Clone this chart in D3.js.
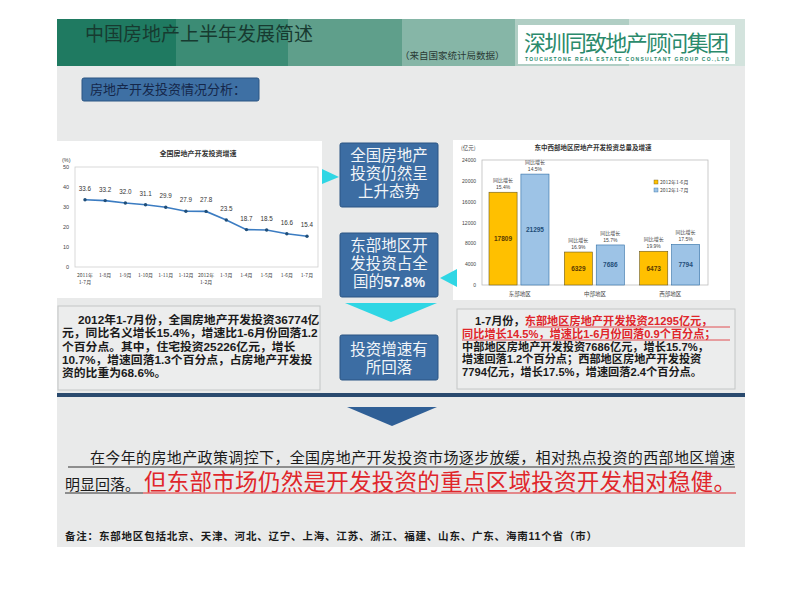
<!DOCTYPE html>
<html><head><meta charset="utf-8">
<script src="https://cdn.jsdelivr.net/npm/d3@7"></script>
<style>body{margin:0;background:#fff}svg{display:block}</style>
</head><body>
<script>
// ---- data ----
const lineCategories = ["2011年|1-7月","1-8月","1-9月","1-10月","1-11月","1-12月","2012年|1-2月","1-3月","1-4月","1-5月","1-6月","1-7月"];
const lineGrowth = [33.6,33.2,32.0,31.1,29.9,27.9,27.8,23.5,18.7,18.5,16.6,15.4];
const lineTicks = [0,10,20,30,40,50];
const regions = ["东部地区","中部地区","西部地区"];
const seriesNames = ["2012年1-6月","2012年1-7月"];
const invest16 = [17809,6329,6473];
const invest17 = [21295,7686,7794];
const growth16 = ["15.4%","16.9%","19.9%"];
const growth17 = ["14.5%","15.7%","17.5%"];
const barTicks = [0,4000,8000,12000,16000,20000,24000];

const CJK = "'Noto Sans CJK SC','Noto Sans',sans-serif";
const MIX = "'Liberation Sans','Noto Sans CJK SC',sans-serif";

const svg = d3.select("body").append("svg").attr("width",800).attr("height",600);

// slide background
svg.append("rect").attr("x",57).attr("y",19).attr("width",688).attr("height",528).attr("fill","#e9eaea");
// header band
const bandX = [57,176,288,402,515,629,745];
const bandC = ["#1f7a61","#3c8c75","#5f9f8b","#86b6a7","#b0cec4","#d3e3dd"];
bandC.forEach((c,i)=>svg.append("rect").attr("x",bandX[i]).attr("y",19).attr("width",bandX[i+1]-bandX[i]).attr("height",47).attr("fill",c));
svg.append("text").attr("x",85).attr("y",41).attr("font-family",CJK).attr("font-size",19).attr("fill","#173a30").text("中国房地产上半年发展简述");
svg.append("text").attr("x",400).attr("y",59).attr("font-family",CJK).attr("font-size",9.5).attr("fill","#2a3a35").text("（来自国家统计局数据）");
svg.append("rect").attr("x",518).attr("y",25).attr("width",217).attr("height",39).attr("fill","#ffffff");
svg.append("text").attr("x",524).attr("y",51).attr("font-family",CJK).attr("font-size",22).attr("fill","#2b8a6c").attr("textLength",205).text("深圳同致地产顾问集团");
svg.append("text").attr("x",525).attr("y",60.5).attr("font-family",MIX).attr("font-weight","bold").attr("font-size",5).attr("fill","#2b8a6c").attr("textLength",204).text("TOUCHSTONE REAL ESTATE CONSULTANT GROUP CO.,LTD");

// section label
svg.append("rect").attr("x",82).attr("y",78).attr("width",177).attr("height",23).attr("rx",2).attr("fill","#3e70a4").attr("stroke","#2a5482");
svg.append("text").attr("x",90).attr("y",94).attr("font-family",CJK).attr("font-size",13).attr("fill","#15274a").text("房地产开发投资情况分析：");

// ---- line chart ----
svg.append("rect").attr("x",57).attr("y",141).attr("width",265).attr("height",157).attr("fill","#fff");
svg.append("text").attr("x",198).attr("y",156).attr("text-anchor","middle").attr("font-family",CJK).attr("font-size",7).attr("font-weight","bold").attr("fill","#333").text("全国房地产开发投资增速");
svg.append("text").attr("x",62).attr("y",162).attr("font-family",MIX).attr("font-size",5.5).attr("fill","#444").text("(%)");
const lx = d3.scalePoint().domain(lineCategories).range([85,307]);
const ly = d3.scaleLinear().domain([0,50]).range([267,167]);
svg.append("rect").attr("x",75).attr("y",167).attr("width",243).attr("height",100).attr("fill","none").attr("stroke","#cfcfcf").attr("stroke-width",0.8);
const lax = svg.append("g").attr("transform","translate(75,0)").call(d3.axisLeft(ly).tickValues(lineTicks).tickSize(0).tickPadding(6));
lax.select(".domain").remove();
lax.selectAll("text").attr("font-family",MIX).attr("font-size",5.5).attr("fill","#444");
const xl = svg.append("g").selectAll("text").data(lineCategories).join("text")
  .attr("x",d=>lx(d)).attr("y",277).attr("text-anchor","middle").attr("font-family",CJK).attr("font-size",5).attr("fill","#444");
xl.each(function(d){const parts=d.split("|");d3.select(this).selectAll("tspan").data(parts).join("tspan").attr("x",lx(d)).attr("dy",(p,i)=>i?7:0).text(p=>p);});
svg.append("path").datum(lineGrowth).attr("fill","none").attr("stroke","#3b7cc2").attr("stroke-width",1.6)
  .attr("d",d3.line().x((d,i)=>lx(lineCategories[i])).y(d=>ly(d)));
svg.append("g").selectAll("circle").data(lineGrowth).join("circle").attr("cx",(d,i)=>lx(lineCategories[i])).attr("cy",d=>ly(d)).attr("r",1.7).attr("fill","#1f4e79");
svg.append("g").selectAll("text").data(lineGrowth).join("text").attr("x",(d,i)=>lx(lineCategories[i])).attr("y",d=>ly(d)-9)
  .attr("text-anchor","middle").attr("font-family",MIX).attr("font-size",6.3).attr("fill","#333").text(d=>d3.format(".1f")(d));

// ---- bar chart ----
svg.append("rect").attr("x",453).attr("y",140).attr("width",277).attr("height",160).attr("fill","#fff");
svg.append("text").attr("x",593).attr("y",150).attr("text-anchor","middle").attr("font-family",CJK).attr("font-size",6.5).attr("font-weight","bold").attr("fill","#333").text("东中西部地区房地产开发投资总量及增速");
svg.append("text").attr("x",461).attr("y",150).attr("font-family",CJK).attr("font-size",5.5).attr("fill","#444").text("(亿元)");
const bx0 = d3.scaleBand().domain(regions).range([482,708]);
const bx1 = d3.scaleBand().domain(seriesNames).range([7,67]).paddingInner(0.12);
const by = d3.scaleLinear().domain([0,24000]).range([285,160]);
svg.append("rect").attr("x",482).attr("y",160).attr("width",226).attr("height",125).attr("fill","none").attr("stroke","#bdbdbd").attr("stroke-width",0.8);
const bax = svg.append("g").attr("transform","translate(482,0)").call(d3.axisLeft(by).tickValues(barTicks).tickFormat(d3.format("d")).tickSize(0).tickPadding(6));
bax.select(".domain").remove();
bax.selectAll("text").attr("font-family",MIX).attr("font-size",5).attr("fill","#444");
const barColors = ["#ffc000","#9dc3e6"], barStroke = ["#6b5a20","#2e6da4"], barText = ["#5a3a00","#1f4e79"];
const sets = [invest16, invest17], gsets = [growth16, growth17];
seriesNames.forEach((s,si)=>{
  const g = svg.append("g");
  g.selectAll("rect").data(sets[si]).join("rect")
    .attr("x",(d,i)=>bx0(regions[i])+bx1(s)).attr("y",d=>by(d)).attr("width",bx1.bandwidth()).attr("height",d=>285-by(d))
    .attr("fill",barColors[si]).attr("stroke",barStroke[si]).attr("stroke-width",0.6);
  g.selectAll("text.v").data(sets[si]).join("text").attr("class","v")
    .attr("x",(d,i)=>bx0(regions[i])+bx1(s)+bx1.bandwidth()/2).attr("y",d=>(by(d)+285)/2+2.5)
    .attr("text-anchor","middle").attr("font-family",MIX).attr("font-weight","bold").attr("font-size",6.5).attr("fill",barText[si]).text(d=>d);
  g.selectAll("text.g1").data(sets[si]).join("text").attr("class","g1")
    .attr("x",(d,i)=>bx0(regions[i])+bx1(s)+bx1.bandwidth()/2).attr("y",d=>by(d)-10)
    .attr("text-anchor","middle").attr("font-family",CJK).attr("font-size",5).attr("fill","#444").text("同比增长");
  g.selectAll("text.g2").data(gsets[si]).join("text").attr("class","g2")
    .attr("x",(d,i)=>bx0(regions[i])+bx1(s)+bx1.bandwidth()/2).attr("y",(d,i)=>by(sets[si][i])-3)
    .attr("text-anchor","middle").attr("font-family",MIX).attr("font-size",5).attr("fill","#444").text(d=>d);
  svg.append("rect").attr("x",654).attr("y",180+si*8).attr("width",4).attr("height",4).attr("fill",barColors[si]).attr("stroke",barStroke[si]).attr("stroke-width",0.4);
  svg.append("text").attr("x",660).attr("y",184+si*8).attr("font-family",CJK).attr("font-size",5).attr("fill","#444").text(s);
});
svg.append("g").selectAll("text").data(regions).join("text").attr("x",d=>bx0(d)+bx0.bandwidth()/2).attr("y",296)
  .attr("text-anchor","middle").attr("font-family",CJK).attr("font-size",5.5).attr("fill","#444").text(d=>d);

// ---- middle boxes & arrows ----
const cyan = "#2fd6e4";
svg.append("path").attr("d","M322,169 L339,177 L322,184 Z").attr("fill",cyan);
svg.append("path").attr("d","M440,278 L457,269 L457,287 Z").attr("fill",cyan);
const boxes = [
  {y:143,h:64,lines:["全国房地产","投资仍然呈","上升态势"],col:"#f2f5f8",y0:161},
  {y:233,h:64,lines:["东部地区开","发投资占全","国的|57.8%"],col:"#f2f5f8",y0:251},
  {y:335,h:45,lines:["投资增速有","所回落"],col:"#f2f5f8",y0:355}
];
boxes.forEach(b=>{
  svg.append("rect").attr("x",340).attr("y",b.y).attr("width",98).attr("height",b.h).attr("rx",2).attr("fill","#3c6da3").attr("stroke","#2a5583");
  const t = svg.append("text").attr("y",b.y0).attr("text-anchor","middle").attr("font-family",CJK).attr("font-size",15.5).attr("fill",b.col);
  b.lines.forEach((ln,i)=>{
    const parts = ln.split("|");
    t.append("tspan").attr("x",389).attr("y",b.y0+i*18).text(parts[0] + (parts[1] ? "" : ""));
    if(parts[1]) t.append("tspan").attr("font-family",MIX).attr("font-weight","bold").attr("font-size",14.5).text(parts[1]);
  });
});
svg.append("path").attr("d","M345,303 L437,303 L391,322 Z").attr("fill",cyan);

// ---- text boxes ----
svg.append("rect").attr("x",58).attr("y",306).attr("width",262).attr("height",84).attr("fill","#eceded").attr("stroke","#c4c6c6");
const leftLines = [
  "2012年1-7月份，全国房地产开发投资36774亿",
  "元，同比名义增长15.4%，增速比1-6月份回落1.2",
  "个百分点。其中，住宅投资25226亿元，增长",
  "10.7%，增速回落1.3个百分点，占房地产开发投",
  "资的比重为68.6%。"
];
leftLines.forEach((ln,i)=>{
  svg.append("text").attr("x",i?62:78).attr("y",324+i*13.3).attr("font-family",MIX).attr("font-weight","bold").attr("font-size",11.8).attr("fill","#1b1b1b").text(ln);
});
svg.append("rect").attr("x",457).attr("y",309).attr("width",278).attr("height",80).attr("fill","#eceded").attr("stroke","#c4c6c6");
const red = "#e0262b";
const rightLines = [
  [["1-7月份，","#1b1b1b"],["东部地区房地产开发投资21295亿元，",red]],
  [["同比增长14.5%，增速比1-6月份回落0.9个百分点；",red]],
  [["中部地区房地产开发投资7686亿元，增长15.7%，","#1b1b1b"]],
  [["增速回落1.2个百分点；西部地区房地产开发投资","#1b1b1b"]],
  [["7794亿元，增长17.5%，增速回落2.4个百分点。","#1b1b1b"]]
];
rightLines.forEach((ln,i)=>{
  const t = svg.append("text").attr("x",i?462:475).attr("y",325+i*12.8).attr("font-family",MIX).attr("font-weight","bold").attr("font-size",11.2);
  ln.forEach(p=>t.append("tspan").attr("fill",p[1]).text(p[0]));
});
svg.append("line").attr("x1",528).attr("x2",730).attr("y1",327).attr("y2",327).attr("stroke",red).attr("stroke-width",0.8);
svg.append("line").attr("x1",462).attr("x2",730).attr("y1",340).attr("y2",340).attr("stroke",red).attr("stroke-width",0.8);

// ---- bottom ----
svg.append("rect").attr("x",57).attr("y",393).attr("width",688).attr("height",4).attr("fill","#2a4a6e");
svg.append("path").attr("d","M347,407 L437,407 L392,426 Z").attr("fill","#2f5f96");
svg.append("text").attr("x",90).attr("y",463).attr("font-family",CJK).attr("font-size",15).attr("fill","#1b1b1b").attr("textLength",645).text("在今年的房地产政策调控下，全国房地产开发投资市场逐步放缓，相对热点投资的西部地区增速");
svg.append("line").attr("x1",68).attr("x2",735).attr("y1",467).attr("y2",467).attr("stroke","#333").attr("stroke-width",1);
svg.append("text").attr("x",65).attr("y",490).attr("font-family",CJK).attr("font-size",15).attr("fill","#1b1b1b").text("明显回落。");
svg.append("text").attr("x",144).attr("y",490).attr("font-family",CJK).attr("font-size",22.5).attr("fill",red).attr("textLength",592).text("但东部市场仍然是开发投资的重点区域投资开发相对稳健。");
svg.append("line").attr("x1",65).attr("x2",143).attr("y1",493).attr("y2",493).attr("stroke","#333").attr("stroke-width",1);
svg.append("line").attr("x1",143).attr("x2",736).attr("y1",493).attr("y2",493).attr("stroke",red).attr("stroke-width",1.2);
svg.append("text").attr("x",65).attr("y",540).attr("font-family",MIX).attr("font-weight","bold").attr("font-size",10.5).attr("fill","#1b1b1b").attr("textLength",532).text("备注：东部地区包括北京、天津、河北、辽宁、上海、江苏、浙江、福建、山东、广东、海南11个省（市）");
</script>
</body></html>
